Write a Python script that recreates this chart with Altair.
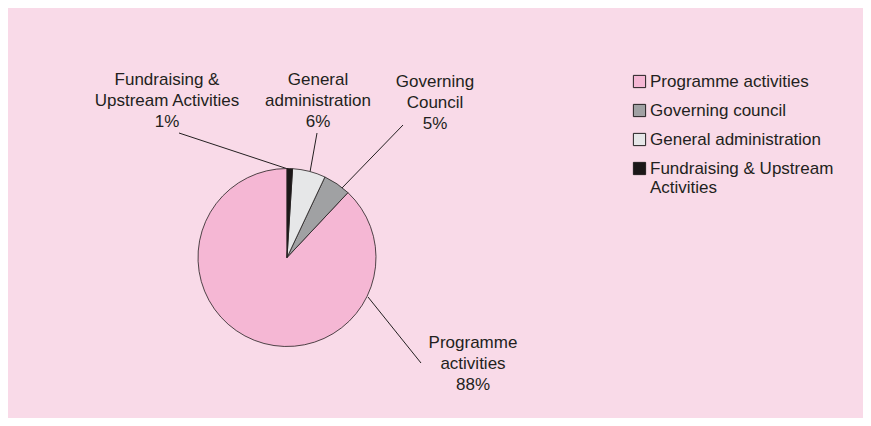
import altair as alt
import pandas as pd

# ---- data ----
categories = ["Programme activities", "Governing council", "General administration",
              "Fundraising & Upstream Activities"]
values = [88, 5, 6, 1]
pie_order = [4, 3, 2, 1]          # clockwise from 12 o'clock: Fundraising, General, Governing, Programme
colors = ["#F5B7D4", "#A0A1A3", "#E6E7E8", "#1B1718"]

label_texts = ["Fundraising &\nUpstream Activities\n1%",
               "General\nadministration\n6%",
               "Governing\nCouncil\n5%",
               "Programme\nactivities\n88%"]

# ---- annotation layout (pixels in the view) ----
label_x = [159, 310, 427, 465]
label_y = [72, 72, 74, 335]
lead_x1 = [171, 309, 395, 360]
lead_y1 = [125, 125, 117, 289]
lead_x2 = [280, 302, 334, 413]
lead_y2 = [161, 164, 180, 355]

CX, CY, R = 279, 249.5, 89
INK = "#231F20"
FONT = "Liberation Sans"

pie_df = pd.DataFrame({"category": categories, "value": values, "order": pie_order})
lab_df = pd.DataFrame({"text": label_texts, "x": label_x, "y": label_y})
lead_df = pd.DataFrame({"x": lead_x1, "y": lead_y1, "x2": lead_x2, "y2": lead_y2})

pie = alt.Chart(pie_df).mark_arc(radius=R, stroke=INK, strokeWidth=0.8).encode(
    theta=alt.Theta("value:Q", stack=True),
    order=alt.Order("order:Q"),
    color=alt.Color(
        "category:N",
        sort=categories,
        scale=alt.Scale(domain=categories, range=colors),
        legend=alt.Legend(
            title=None,
            orient="none",
            legendX=623,
            legendY=65,
            symbolType="square",
            symbolSize=150,
            symbolStrokeColor=INK,
            symbolStrokeWidth=1,
            labelFont=FONT,
            labelFontSize=17,
            labelColor=INK,
            labelOffset=2,
            labelLimit=400,
            rowPadding=11,
            labelExpr="datum.label == 'Fundraising & Upstream Activities' ? [' Fundraising & Upstream', ' Activities'] : datum.label",
        ),
    ),
    x=alt.value(CX),
    y=alt.value(CY),
)

labels = alt.Chart(lab_df).mark_text(
    font=FONT, fontSize=17, color=INK, lineBreak="\n", lineHeight=21,
    align="center", baseline="middle",
).encode(
    x=alt.X("x:Q", scale=None),
    y=alt.Y("y:Q", scale=None),
    text="text:N",
)

leaders = alt.Chart(lead_df).mark_rule(color=INK, strokeWidth=1).encode(
    x=alt.X("x:Q", scale=None),
    y=alt.Y("y:Q", scale=None),
    x2="x2:Q",
    y2="y2:Q",
)

chart = alt.layer(leaders, pie, labels).properties(
    width=855, height=410, autosize=alt.AutoSizeParams(type="none"), padding=0,
).configure(background="#F9DAE8").configure_view(stroke=None)

chart.save("out.html", embed_options={"renderer": "svg", "actions": False})
